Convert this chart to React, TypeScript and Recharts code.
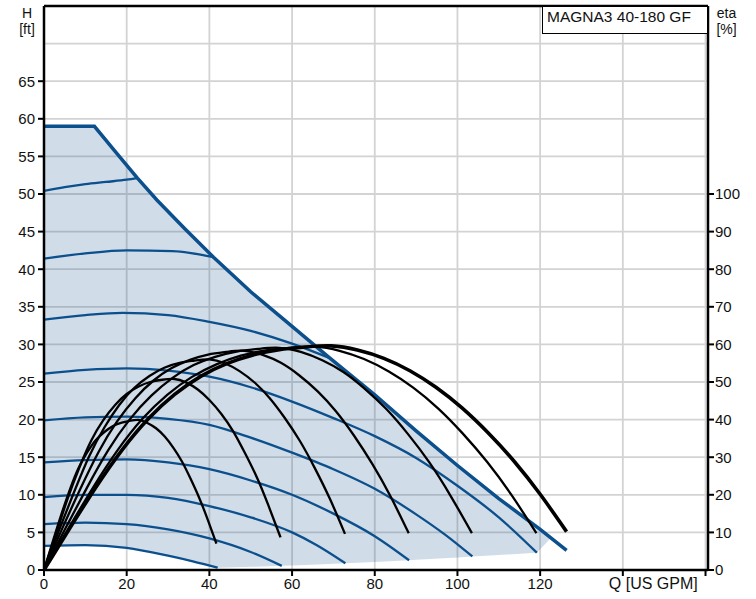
import React from 'react';
import { ComposedChart, Line, Area, XAxis, YAxis, CartesianGrid, ReferenceLine } from 'recharts';

const FONT = '"Liberation Sans", Arial, Helvetica, sans-serif';
const BLUE = '#0b4f8c';

// Axis ticks
const xTicks = [0, 20, 40, 60, 80, 100, 120, 140, 160];
const xTickLabels = ['0', '20', '40', '60', '80', '100', '120', 'Q [US GPM]', ''];
const hTicks = [0, 5, 10, 15, 20, 25, 30, 35, 40, 45, 50, 55, 60, 65, 70];
const etaTicks = [0, 10, 20, 30, 40, 50, 60, 70, 80, 90, 100];

// Max curve (H, ft)
const maxQ = [0, 12.2, 17, 22.6, 27.3, 34, 41, 50, 60, 69, 80, 90, 100, 110, 120, 126.4];
const maxH = [59, 59, 55.8, 52.1, 49.2, 45.4, 41.6, 37.0, 32.4, 28.25, 23.3, 18.5, 13.9, 9.5, 5.4, 2.6];

// Operating range (shaded)
const shadeQ = [0, 10, 12.2, 17, 20, 22.6, 27.3, 30, 34, 36, 41, 42, 50, 57.5, 60, 69, 70, 72.9, 80, 88.3, 90, 100, 103.6, 110, 119.2, 122.6];
const shadeLow = [3.2, 3.3, 3.25, 3.1, 2.95, 2.8, 2.25, 1.9, 1.45, 1.15, 0.45, 0.3, 0.42, 0.55, 0.6, 0.8, 0.82, 0.9, 1.08, 1.3, 1.35, 1.67, 1.8, 2.0, 2.3, 4.26];
const shadeHigh = [59, 59, 59, 55.8, 53.9, 52.1, 49.2, 47.7, 45.4, 44.3, 41.6, 41.1, 37.0, 33.5, 32.4, 28.25, 27.8, 26.5, 23.3, 19.3, 18.5, 13.9, 12.3, 9.5, 5.7, 4.26];

// Speed curves (H, ft)
const speedAQ = [0, 5, 10, 15, 20, 22.6];
const speedAH = [50.4, 50.9, 51.3, 51.6, 51.9, 52.1];
const speedBQ = [0, 10, 20, 31, 41];
const speedBH = [41.4, 42.1, 42.5, 42.4, 41.6];
const speedCQ = [0, 10, 19, 30, 40, 50, 60, 69];
const speedCH = [33.3, 33.9, 34.2, 33.9, 33.0, 31.8, 30.1, 28.2];
const speedDQ = [0, 10, 20, 30, 40, 50, 60, 70, 80, 90, 100, 110, 119.2];
const speedDH = [26.1, 26.6, 26.8, 26.5, 25.7, 24.3, 22.4, 20.2, 17.8, 14.9, 11.2, 7.0, 2.3];
const speedEQ = [0, 10, 20, 30, 40, 50, 60, 70, 80, 90, 97, 103.6];
const speedEH = [19.9, 20.3, 20.4, 20.1, 19.3, 17.6, 15.6, 13.4, 10.8, 7.4, 4.7, 1.8];
const speedFQ = [0, 10, 20, 30, 40, 50, 60, 70, 80, 88.3];
const speedFH = [14.3, 14.6, 14.7, 14.3, 13.4, 11.9, 10.0, 7.5, 4.5, 1.3];
const speedGQ = [0, 10, 20, 30, 40, 50, 60, 66, 72.9];
const speedGH = [9.7, 10.0, 10.0, 9.6, 8.5, 7.0, 5.0, 3.3, 0.9];
const speedHQ = [0, 10, 20, 30, 40, 50, 57.5];
const speedHH = [6.1, 6.3, 6.1, 5.4, 4.2, 2.4, 0.55];
const speedIQ = [0, 10, 20, 30, 36, 42];
const speedIH = [3.2, 3.3, 2.95, 1.9, 1.15, 0.3];

// Efficiency curves (eta, %)
const eta1Q = [0, 2.1, 4.2, 6.3, 8.3, 10.4, 12.5, 14.6, 16.7, 18.8, 20.9, 22.9, 25.0, 27.1, 29.2, 31.3, 33.4, 35.4, 37.5, 39.6, 41.7];
const eta1V = [0, 7.5, 14.8, 21.5, 27.0, 31.2, 34.5, 36.7, 38.3, 39.2, 39.7, 39.9, 39.1, 37.7, 35.5, 32.5, 28.8, 24.4, 19.3, 13.4, 7.0];
const eta2Q = [0, 2.9, 5.7, 8.6, 11.4, 14.3, 17.2, 20.0, 22.9, 25.7, 28.6, 31.5, 34.3, 37.2, 40.0, 42.9, 45.8, 48.6, 51.5, 54.3, 57.2];
const eta2V = [0, 9.6, 18.9, 27.4, 34.4, 39.8, 43.9, 46.8, 48.8, 50.0, 50.6, 50.8, 49.9, 48.0, 45.2, 41.5, 36.8, 31.1, 24.6, 17.1, 8.7];
const eta3Q = [0, 3.6, 7.3, 10.9, 14.6, 18.2, 21.8, 25.5, 29.1, 32.8, 36.4, 40.0, 43.7, 47.3, 51.0, 54.6, 58.2, 61.9, 65.5, 69.2, 72.8];
const eta3V = [0, 10.5, 20.8, 30.2, 37.9, 43.9, 48.4, 51.6, 53.8, 55.1, 55.7, 56.0, 55.0, 52.9, 49.8, 45.7, 40.5, 34.3, 27.1, 18.8, 9.6];
const eta4Q = [0, 4.4, 8.8, 13.2, 17.6, 22.1, 26.5, 30.9, 35.3, 39.7, 44.1, 48.5, 52.9, 57.3, 61.7, 66.2, 70.6, 75.0, 79.4, 83.8, 88.2];
const eta4V = [0, 11.0, 21.6, 31.4, 39.4, 45.7, 50.4, 53.7, 55.9, 57.3, 58.0, 58.3, 57.2, 55.1, 51.8, 47.5, 42.2, 35.7, 28.2, 19.6, 9.8];
const eta5Q = [0, 5.2, 10.4, 15.5, 20.7, 25.9, 31.1, 36.2, 41.4, 46.6, 51.8, 56.9, 62.1, 67.3, 72.5, 77.6, 82.8, 88.0, 93.2, 98.3, 103.5];
const eta5V = [0, 11.1, 21.9, 31.8, 40.0, 46.3, 51.1, 54.5, 56.7, 58.1, 58.8, 59.1, 58.0, 55.8, 52.6, 48.2, 42.8, 36.2, 28.6, 19.8, 9.8];
const eta6Q = [0, 6.0, 11.9, 17.9, 23.8, 29.8, 35.7, 41.7, 47.6, 53.6, 59.6, 65.5, 71.5, 77.4, 83.4, 89.3, 95.3, 101.2, 107.2, 113.1, 119.1];
const eta6V = [0, 11.2, 22.0, 32.0, 40.2, 46.6, 51.3, 54.7, 57.0, 58.4, 59.1, 59.4, 58.3, 56.1, 52.8, 48.5, 43.0, 36.4, 28.7, 19.9, 9.8];
const eta7Q = [0, 6.3, 12.6, 19.0, 25.3, 31.6, 37.9, 44.2, 50.6, 56.9, 63.2, 69.5, 75.8, 82.2, 88.5, 94.8, 101.1, 107.4, 113.8, 120.1, 126.4];
const eta7V = [0, 11.2, 22.1, 32.1, 40.3, 46.7, 51.5, 54.9, 57.2, 58.6, 59.3, 59.6, 58.5, 56.3, 53.0, 48.6, 43.1, 36.5, 28.8, 20.0, 10.2];

const zip = (q: number[], v: number[]) => q.map((x, i) => ({ q: x, v: v[i] }));

const shadeData = shadeQ.map((x, i) => ({ q: x, band: [shadeLow[i], shadeHigh[i]] }));

const speedCurves = [
  zip(speedAQ, speedAH),
  zip(speedBQ, speedBH),
  zip(speedCQ, speedCH),
  zip(speedDQ, speedDH),
  zip(speedEQ, speedEH),
  zip(speedFQ, speedFH),
  zip(speedGQ, speedGH),
  zip(speedHQ, speedHH),
  zip(speedIQ, speedIH),
];

const etaCurves = [
  zip(eta1Q, eta1V),
  zip(eta2Q, eta2V),
  zip(eta3Q, eta3V),
  zip(eta4Q, eta4V),
  zip(eta5Q, eta5V),
  zip(eta6Q, eta6V),
];
const etaMax = zip(eta7Q, eta7V);
const maxCurve = zip(maxQ, maxH);

const LeftTick = (props: any) => {
  const { x, y, payload } = props;
  const v = payload.value;
  if (v === 70) return <g />;
  return (
    <g>
      <line x1={x + 3} x2={x + 9} y1={y} y2={y} stroke="#000" strokeWidth={2} />
      <text x={x} y={y} dy="0.355em" textAnchor="end" fontSize={15} fontFamily={FONT} fill="#111">
        {v}
      </text>
    </g>
  );
};

const RightTick = (props: any) => {
  const { x, y, payload } = props;
  return (
    <g>
      <line x1={x - 7} x2={x - 1} y1={y} y2={y} stroke="#000" strokeWidth={2} />
      <text x={x} y={y} dy="0.355em" textAnchor="start" fontSize={15} fontFamily={FONT} fill="#111">
        {payload.value}
      </text>
    </g>
  );
};

const BottomTick = (props: any) => {
  const { x, y, index } = props;
  const label = xTickLabels[index] ?? '';
  const isAxisTitle = label.length > 3;
  return (
    <g>
      <line x1={x} x2={x} y1={y - 8} y2={y - 2} stroke="#000" strokeWidth={2} />
      <text
        x={isAxisTitle ? x - 14 : x}
        y={y}
        dy="0.71em"
        textAnchor={isAxisTitle ? 'start' : 'middle'}
        fontSize={isAxisTitle ? 16 : 15}
        fontFamily={FONT}
        fill="#111"
      >
        {label}
      </text>
    </g>
  );
};

export default function App() {
  return (
    <div style={{ position: 'absolute', left: 0, top: 0, width: 756, height: 599, background: '#fff', fontFamily: FONT }}>
      <ComposedChart
        width={756}
        height={599}
        data={shadeData}
        margin={{ top: 6, right: 0, bottom: 0, left: 0 }}
      >
        <CartesianGrid stroke="#d3d3d3" strokeWidth={1.8} yAxisId="left" />
        <XAxis
          type="number"
          dataKey="q"
          domain={[0, 160.6]}
          ticks={xTicks}
          allowDataOverflow
          height={29}
          tickSize={6}
          tickMargin={2}
          tickLine={false}
          tick={<BottomTick />}
          axisLine={{ stroke: '#000', strokeWidth: 2.5 }}
          interval={0}
        />
        <YAxis
          yAxisId="left"
          type="number"
          domain={[0, 75]}
          ticks={hTicks}
          allowDataOverflow
          width={44}
          tickSize={6}
          tickMargin={3}
          tickLine={false}
          tick={<LeftTick />}
          axisLine={{ stroke: '#000', strokeWidth: 2.5 }}
          interval={0}
        />
        <YAxis
          yAxisId="right"
          orientation="right"
          type="number"
          domain={[0, 150]}
          ticks={etaTicks}
          allowDataOverflow
          width={48}
          tickSize={6}
          tickMargin={1}
          tickLine={false}
          tick={<RightTick />}
          axisLine={{ stroke: '#000', strokeWidth: 2.5 }}
          interval={0}
        />
        <Area
          yAxisId="left"
          type="linear"
          dataKey="band"
          stroke="none"
          fill="#14508c"
          fillOpacity={0.2}
          isAnimationActive={false}
          dot={false}
          activeDot={false}
        />
        {speedCurves.map((d, i) => (
          <Line
            key={'s' + i}
            yAxisId="left"
            data={d}
            dataKey="v"
            type="monotone"
            stroke={BLUE}
            strokeWidth={2.3}
            dot={false}
            activeDot={false}
            isAnimationActive={false}
          />
        ))}
        <Line
          yAxisId="left"
          data={maxCurve}
          dataKey="v"
          type="linear"
          stroke={BLUE}
          strokeWidth={3.5}
          dot={false}
          activeDot={false}
          isAnimationActive={false}
        />
        {etaCurves.map((d, i) => (
          <Line
            key={'e' + i}
            yAxisId="right"
            data={d}
            dataKey="v"
            type="natural"
            stroke="#000"
            strokeWidth={2.3}
            dot={false}
            activeDot={false}
            isAnimationActive={false}
          />
        ))}
        <Line
          yAxisId="right"
          data={etaMax}
          dataKey="v"
          type="natural"
          stroke="#000"
          strokeWidth={3.6}
          dot={false}
          activeDot={false}
          isAnimationActive={false}
        />
        <ReferenceLine yAxisId="left" y={75} stroke="#000" strokeWidth={2.5} />
      </ComposedChart>
      <div style={{ position: 'absolute', left: 12, top: 5, width: 30, textAlign: 'center', fontSize: 14, lineHeight: '16px', color: '#111' }}>
        H<br />[ft]
      </div>
      <div style={{ position: 'absolute', left: 711, top: 5, width: 31, textAlign: 'center', fontSize: 14, lineHeight: '16px', color: '#111' }}>
        eta<br />[%]
      </div>
      <div
        style={{
          position: 'absolute',
          left: 542,
          top: 6,
          width: 166,
          height: 28,
          boxSizing: 'border-box',
          border: '1px solid #000',
          background: '#fff',
          fontSize: 15.5,
          lineHeight: '18px',
          paddingLeft: 4,
          paddingTop: 1,
          color: '#111',
          whiteSpace: 'nowrap',
        }}
      >
        MAGNA3 40-180 GF
      </div>
    </div>
  );
}
